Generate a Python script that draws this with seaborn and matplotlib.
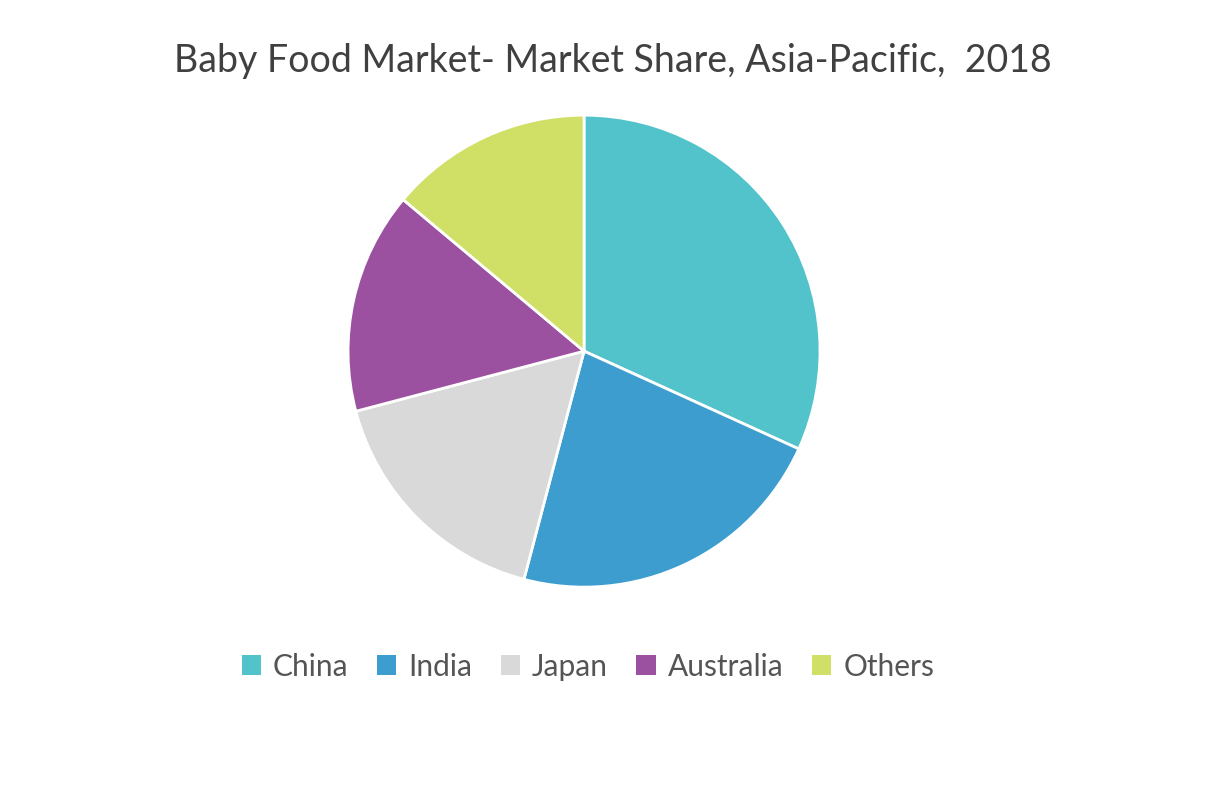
import matplotlib
matplotlib.use("Agg")
import matplotlib.pyplot as plt
import seaborn as sns
from matplotlib.patches import Patch

# market share values (%)
countries = ["China", "India", "Japan", "Australia", "Others"]
share = [31.8, 22.3, 16.8, 15.2, 13.9]
colors = ["#52C3CA", "#3D9DCF", "#D9D9D9", "#9C50A0", "#D0DF66"]

sns.set_theme(style="white")
plt.rcParams["font.family"] = ["Lato", "DejaVu Sans"]

fig = plt.figure(figsize=(12.17, 7.86), dpi=100)
ax = fig.add_axes([0.286, 0.253, 0.3878, 0.6005])

ax.pie(share, colors=sns.color_palette(colors), startangle=90, counterclock=False,
       wedgeprops=dict(edgecolor="white", linewidth=2))
ax.set_xlim(-1.0, 1.0)
ax.set_ylim(-1.0, 1.0)
ax.set_aspect("equal")

fig.suptitle("Baby Food Market- Market Share, Asia-Pacific,  2018",
             x=0.504, y=0.922, fontsize=27, color="#404040", va="center")

handles = [Patch(facecolor=c, edgecolor="none") for c in colors]
fig.legend(handles, countries, loc="center", bbox_to_anchor=(0.483, 0.152), ncol=5,
           frameon=False, fontsize=21.5, labelcolor="#555555", handlelength=0.65,
           handleheight=0.65, handletextpad=0.4, columnspacing=0.95)

fig.savefig("out.png", dpi=100, facecolor="white")
